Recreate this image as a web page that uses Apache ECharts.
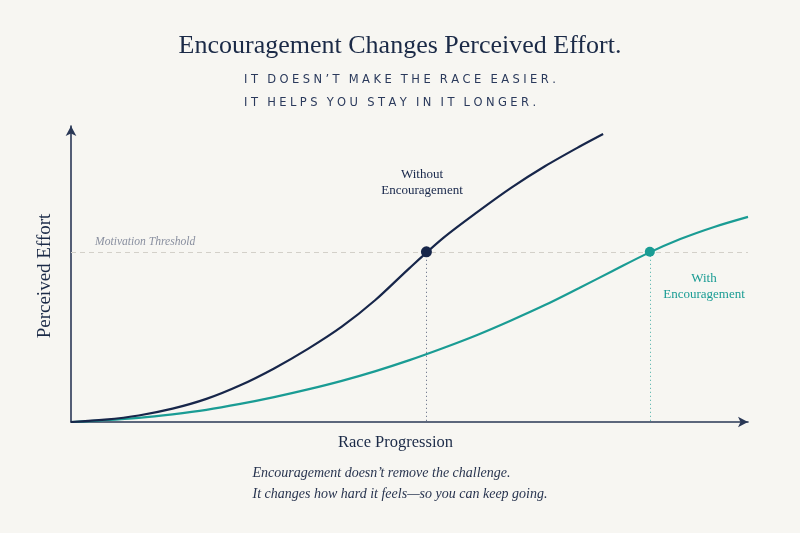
<!DOCTYPE html>
<html>
<head>
<meta charset="utf-8">
<script src="https://cdn.jsdelivr.net/npm/echarts@6/dist/echarts.min.js"></script>
<style>
  html, body { margin: 0; padding: 0; background: #f7f6f2; }
  #chart { width: 800px; height: 533px; }
</style>
</head>
<body>
<div id="chart"></div>
<script>
// race progression (0-100) vs perceived effort (0-100)
const withoutX = [0, 5, 10, 15, 20, 25, 30, 35, 40, 45, 50, 55, 60, 65, 70, 75, 78.6];
const withoutY = [0, 0.8, 2.2, 4.5, 7.8, 12.4, 18.1, 24.7, 32.2, 41.3, 52.0, 62.2, 70.9, 79.1, 86.4, 92.9, 97.3];
const withX = [0, 5, 10, 15, 20, 25, 30, 35, 40, 45, 50, 55, 60, 65, 70, 75, 80, 85, 90, 95, 100];
const withY = [0, 0.6, 1.4, 2.6, 4.1, 6.1, 8.4, 11.0, 13.9, 17.2, 20.9, 25.0, 29.4, 34.3, 39.5, 45.2, 51.0, 56.8, 61.8, 65.9, 69.3];
const threshold = 57.5;
const crossWithout = [52.5, 57.5];
const crossWith = [85.5, 57.5];

const NAVY = "#17264a";
const TEAL = "#1a9c94";
const SERIF = "'Liberation Serif', 'DejaVu Serif', serif";

// canvas text has no letter-spacing, so spread the capitals with thin spaces
const spaced = (s) =>
  s.split(" ").map((w) => w.split("").join("\u2009\u200A")).join("\u2009\u2009\u2009\u2009");

const chart = echarts.init(document.getElementById("chart"));

const option = {
  backgroundColor: "#f7f6f2",
  animation: false,
  grid: { left: 71, right: 52, top: 126, bottom: 111 },
  xAxis: {
    type: "value",
    min: 0,
    max: 100,
    axisLine: {
      lineStyle: { color: "#2a3856", width: 1.6 },
      symbol: ["none", "arrow"],
      symbolSize: [8, 10],
    },
    axisTick: { show: false },
    axisLabel: { show: false },
    splitLine: { show: false },
  },
  yAxis: {
    type: "value",
    min: 0,
    max: 100,
    axisLine: {
      show: true,
      lineStyle: { color: "#2a3856", width: 1.6 },
      symbol: ["none", "arrow"],
      symbolSize: [8, 10],
    },
    axisTick: { show: false },
    axisLabel: { show: false },
    splitLine: { show: false },
  },
  graphic: [
    {
      type: "text", left: "center", top: 33,
      style: { text: "Encouragement Changes Perceived Effort.", font: "26px " + SERIF, fill: "#1b2a47" },
    },
    {
      type: "text", left: "center", top: 69,
      style: {
        text: spaced("IT DOESN\u2019T MAKE THE RACE EASIER.") + "\n" + spaced("IT HELPS YOU STAY IN IT LONGER."),
        font: "11.5px 'DejaVu Sans', sans-serif", fill: "#2b3a5c", align: "center", lineHeight: 23,
      },
    },
    {
      type: "text", x: 338, y: 434,
      style: { text: "Race Progression", font: "16.5px " + SERIF, fill: "#1b2a47" },
    },
    {
      type: "text", x: 45, y: 276, rotation: Math.PI / 2,
      style: { text: "Perceived Effort", font: "19px " + SERIF, fill: "#1b2a47", align: "center", verticalAlign: "middle" },
    },
    {
      type: "text", x: 422, y: 167,
      style: { text: "Without\nEncouragement", font: "13px " + SERIF, fill: NAVY, align: "center", lineHeight: 16 },
    },
    {
      type: "text", x: 704, y: 271,
      style: { text: "With\nEncouragement", font: "13px " + SERIF, fill: TEAL, align: "center", lineHeight: 16 },
    },
    {
      type: "text", left: "center", top: 463,
      style: {
        text: "Encouragement doesn\u2019t remove the challenge.\nIt changes how hard it feels\u2014so you can keep going.",
        font: "italic 14px " + SERIF, fill: "#28344f", align: "center", lineHeight: 21,
      },
    },
  ],
  series: [
    {
      name: "With Encouragement",
      type: "line",
      smooth: 0.3,
      showSymbol: false,
      data: withX.map((x, i) => [x, withY[i]]),
      lineStyle: { color: TEAL, width: 2.2 },
      markLine: {
        silent: true,
        symbol: "none",
        label: { show: false },
        lineStyle: { color: TEAL, type: [1, 3], width: 1, opacity: 0.8 },
        data: [[{ coord: crossWith }, { coord: [crossWith[0], 0] }]],
      },
      z: 3,
    },
    {
      name: "Without Encouragement",
      type: "line",
      smooth: 0.3,
      showSymbol: false,
      data: withoutX.map((x, i) => [x, withoutY[i]]),
      lineStyle: { color: NAVY, width: 2.2 },
      markLine: {
        silent: true,
        symbol: "none",
        label: { show: false },
        data: [
          [
            { coord: crossWithout, lineStyle: { color: "#55607a", type: [1, 3], width: 1 } },
            { coord: [crossWithout[0], 0] },
          ],
          {
            yAxis: threshold,
            lineStyle: { color: "#d3d0c9", type: [5, 4], width: 1 },
            label: {
              show: true,
              position: "insideStartTop",
              formatter: "Motivation Threshold",
              fontFamily: SERIF,
              fontStyle: "italic",
              fontSize: 11.6,
              color: "#8a90a0",
              distance: [24, 4],
            },
          },
        ],
      },
      z: 4,
    },
    {
      type: "scatter",
      data: [
        { value: crossWithout, symbolSize: 11, itemStyle: { color: NAVY } },
        { value: crossWith, symbolSize: 10, itemStyle: { color: TEAL } },
      ],
      itemStyle: { opacity: 1 },
      z: 5,
    },
  ],
};

chart.setOption(option);
</script>
</body>
</html>
